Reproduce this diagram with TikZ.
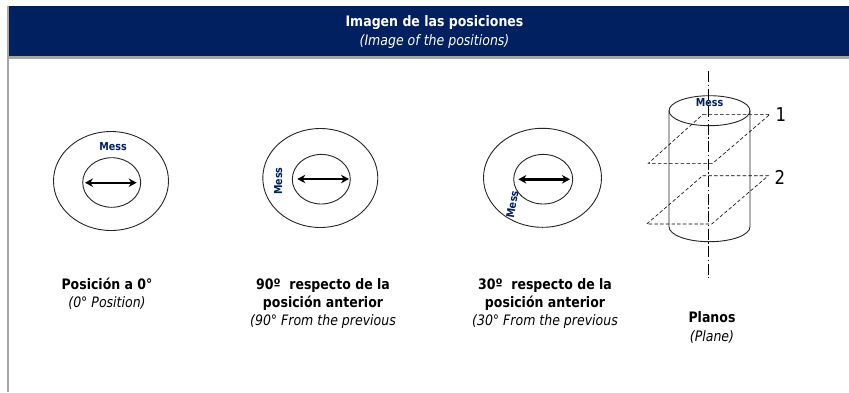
\documentclass[tikz,border=0pt]{standalone}
\usepackage{fontspec}
\setmainfont{DejaVu Sans}[FakeStretch=0.87]
\usetikzlibrary{arrows.meta}
\definecolor{navy}{RGB}{0,32,96}
\definecolor{edge}{RGB}{166,166,166}
\tikzset{
  x=1pt,y=-1pt,
  shape line/.style={draw=black!85,line width=0.9pt},
  measure/.style={line width=2.4pt,{Stealth[length=8pt,width=8.5pt]}-{Stealth[length=8pt,width=8.5pt]}},
  plane/.style={draw=black,line width=0.6pt,dash pattern=on 3.5pt off 2.2pt},
  axis line/.style={draw=black,line width=0.6pt,dash pattern=on 11pt off 2.5pt on 1.5pt off 2.5pt},
  mess/.style={text=navy,font=\bfseries\fontsize{11}{12}\selectfont,inner sep=0pt},
  cap text/.style={align=center,font=\fontsize{14.4}{18.3}\selectfont,inner sep=0pt,text=black},
}
\newcommand{\cn}[1]{\textbf{#1}}
\newcommand{\en}[1]{\textit{#1}}
\begin{document}
\begin{tikzpicture}
\useasboundingbox (0,0) rectangle (849,392);
\fill[white] (0,0) rectangle (849,392);
\fill[navy] (8,6) rectangle (849,56);
\fill[edge] (8,56) rectangle (849,58.5);
\fill[edge] (7,6) rectangle (9,392);
\node[align=center,text=white,font=\fontsize{14.4}{18.3}\selectfont,inner sep=0pt] (title) at (434.5,32) {\cn{Imagen de las posiciones}\\\en{(Image of the positions)}};
% position 1
\draw[shape line] (111,181) ellipse [x radius=57.5,y radius=49.5];
\draw[shape line] (111.7,182.5) ellipse [x radius=29,y radius=24.8];
\coordinate (a1l) at (85,182.7); \coordinate (a1r) at (136.7,182.7);
\draw[measure] (a1l) -- (a1r);
\node[mess] (m1) at (113,146.7) {Mess};
% position 2
\draw[shape line] (320.3,178) ellipse [x radius=57.5,y radius=49.5];
\draw[shape line] (321.3,179.2) ellipse [x radius=29,y radius=24.8];
\coordinate (a2l) at (297.3,179); \coordinate (a2r) at (349,179);
\draw[measure] (a2l) -- (a2r);
\node[mess,rotate=90] (m2) at (278.3,181) {Mess};
% position 3
\draw[shape line] (542.5,177.8) ellipse [x radius=59,y radius=49.5];
\draw[shape line] (543.2,179.2) ellipse [x radius=29.5,y radius=24.8];
\coordinate (a3l) at (518.3,179.3); \coordinate (a3r) at (570,179.3);
\draw[measure] (a3l) -- (a3r);
\node[mess,rotate=80] (m3) at (512.3,204.3) {Mess};
% cylinder
\draw[shape line] (669,110.7) -- (669,226.7) arc[start angle=-180,end angle=-360,x radius=40.5,y radius=15] -- (750,110.7);
\draw[shape line] (709.5,110.7) ellipse [x radius=40.5,y radius=15];
\node[mess] (m4) at (709.5,102.7) {Mess};
\coordinate (axt) at (708.7,71); \coordinate (axb) at (708.7,278);
\draw[axis line] (axt) -- (axb);
\draw[plane] (703,114.3) -- (770,114.3) -- (712.7,163.3) -- (648.3,163.3) -- cycle;
\draw[plane] (702.7,175.7) -- (768.3,175.7) -- (711.7,224) -- (646.7,224) -- cycle;
\node[inner sep=0pt,font=\fontsize{19}{20}\selectfont] (n1) at (781,114.5) {1};
\node[inner sep=0pt,font=\fontsize{19}{20}\selectfont] (n2) at (780,177.5) {2};
% captions
\node[cap text] (c1) at (107,293.5) {\cn{Posición a 0°}\\\en{(0° Position)}};
\node[cap text] (c2) at (323,303.5) {\cn{90º\ \ respecto de la}\\\cn{posición anterior}\\\en{(90° From the previous}};
\node[cap text] (c3) at (545,303.5) {\cn{30º\ \ respecto de la}\\\cn{posición anterior}\\\en{(30° From the previous}};
\node[cap text] (c4) at (712,327.5) {\cn{Planos}\\\en{(Plane)}};
\end{tikzpicture}
\end{document}
